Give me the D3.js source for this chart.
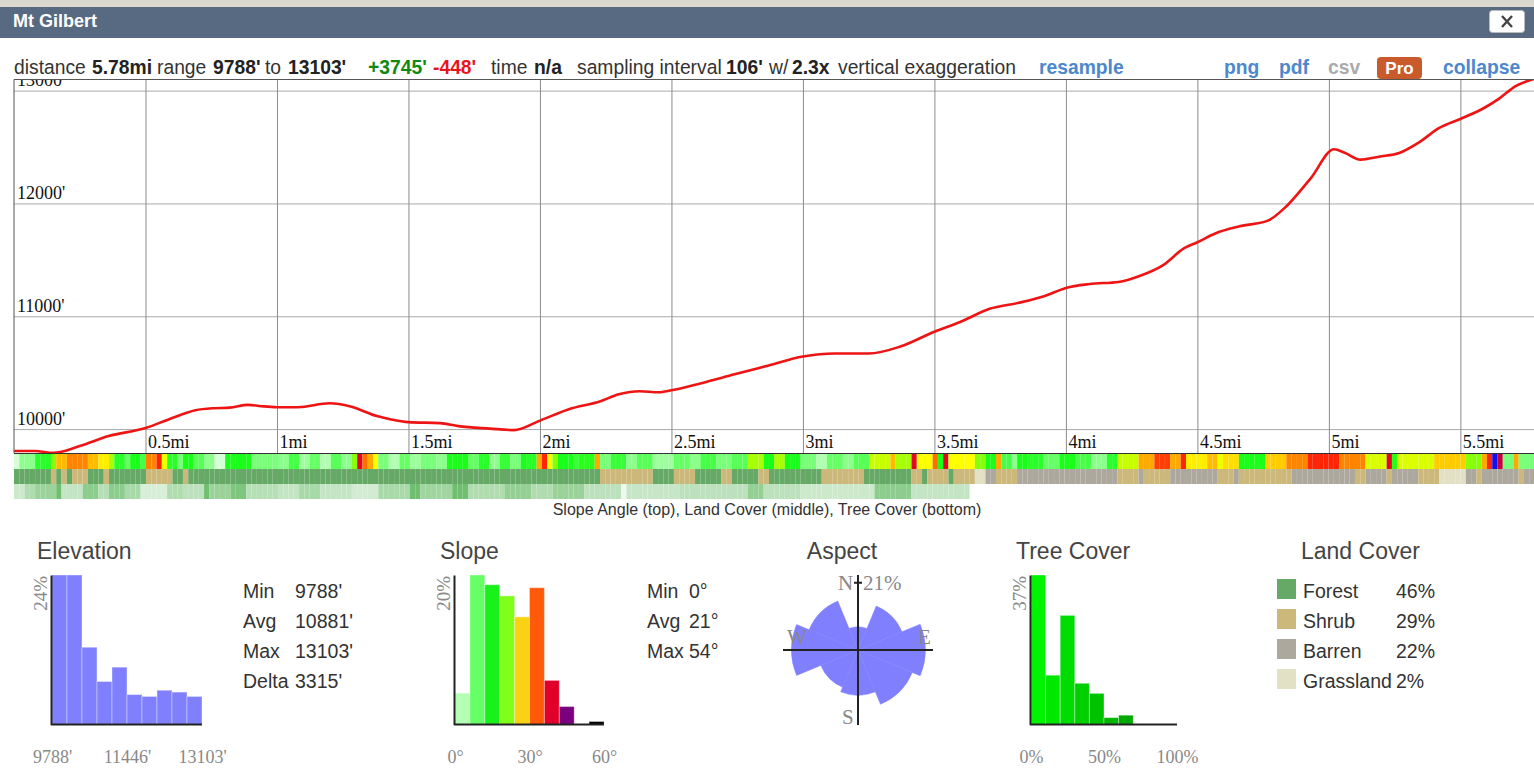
<!DOCTYPE html>
<html>
<head>
<meta charset="utf-8">
<script src="https://d3js.org/d3.v7.min.js"></script>
<style>
	body { margin: 0; background: #fff; overflow: hidden; }
	svg { display: block; font-family: "Liberation Sans", Arial, sans-serif; }
</style>
</head>
<body>
<svg id="chart" width="1534" height="769"></svg>
<script>
// ---- DATA ----

// elevation profile: distance (mi) and elevation (ft)
var profileMi = [0.00, 0.08, 0.15, 0.25, 0.36, 0.50, 0.59, 0.69, 0.76, 0.82, 0.89, 0.94, 1.00, 1.08, 1.20, 1.28, 1.38, 1.43, 1.50, 1.62, 1.69, 1.81, 1.90, 2.00, 2.11, 2.23, 2.30, 2.38, 2.45, 2.50, 2.61, 2.74, 2.87, 3.00, 3.12, 3.25, 3.37, 3.50, 3.60, 3.71, 3.82, 3.92, 4.00, 4.09, 4.20, 4.28, 4.37, 4.45, 4.50, 4.57, 4.66, 4.77, 4.83, 4.93, 5.02, 5.06, 5.12, 5.19, 5.27, 5.34, 5.42, 5.50, 5.59, 5.65, 5.71, 5.78];
var profileFt = [9806, 9806, 9789, 9850, 9938, 10009, 10088, 10167, 10185, 10190, 10215, 10203, 10194, 10194, 10229, 10200, 10115, 10088, 10062, 10053, 10026, 10004, 9991, 10075, 10176, 10247, 10308, 10335, 10326, 10344, 10405, 10485, 10564, 10643, 10670, 10670, 10731, 10863, 10951, 11066, 11119, 11180, 11251, 11286, 11304, 11357, 11454, 11603, 11656, 11736, 11797, 11850, 11956, 12220, 12480, 12449, 12388, 12414, 12449, 12537, 12669, 12749, 12846, 12934, 13040, 13103];

var totalMi = 5.78;
var elevMin = 9788, elevMax = 13103;
var sampleFt = 106;

var xTicks = [0.5, 1, 1.5, 2, 2.5, 3, 3.5, 4, 4.5, 5, 5.5];
var yTicks = [10000, 11000, 12000, 13000];

// strips along the track: [end of run (mi), value]
var slopeRuns = [
	[0.021, 3], [0.078, 8], [0.135, 14], [0.158, 21], [0.200, 30], [0.279, 33], [0.317, 30], [0.356, 27], [0.382, 22],
	[0.420, 14], [0.451, 10], [0.477, 15], [0.504, 12], [0.542, 33], [0.561, 37], [0.580, 25], [0.622, 14], [0.652, 9],
	[0.690, 15], [0.724, 11], [0.755, 8], [0.800, 3], [0.895, 15], [0.998, 9], [1.036, 8], [1.078, 12], [1.119, 7],
	[1.162, 10], [1.200, 6], [1.238, 11], [1.276, 8], [1.299, 21], [1.321, 40], [1.340, 34], [1.363, 31], [1.378, 26],
	[1.420, 9], [1.458, 6], [1.500, 10], [1.549, 7], [1.599, 9], [1.656, 8], [1.720, 15], [1.762, 10], [1.800, 14],
	[1.842, 8], [1.880, 13], [1.922, 9], [1.941, 15], [1.952, 32], [1.979, 14], [2.017, 31], [2.036, 37], [2.055, 25],
	[2.074, 21], [2.120, 15], [2.158, 13], [2.200, 16], [2.219, 31], [2.272, 9], [2.321, 13], [2.378, 8], [2.439, 11],
	[2.500, 7], [2.561, 10], [2.618, 8], [2.679, 12], [2.740, 9], [2.797, 11], [2.846, 22], [2.900, 15], [2.922, 22],
	[2.998, 15], [3.048, 9], [3.101, 6], [3.151, 10], [3.200, 8], [3.253, 11], [3.340, 23], [3.359, 30], [3.416, 22],
	[3.439, 40], [3.500, 26], [3.519, 34], [3.538, 15], [3.557, 40], [3.660, 26], [3.698, 21], [3.736, 15], [3.759, 31],
	[3.793, 12], [3.823, 8], [3.861, 15], [3.918, 14], [3.975, 10], [4.032, 15], [4.089, 12], [4.146, 8], [4.203, 14],
	[4.279, 23], [4.344, 31], [4.401, 36], [4.443, 31], [4.458, 37], [4.534, 27], [4.584, 30], [4.603, 25], [4.659, 28],
	[4.762, 15], [4.838, 29], [4.926, 33], [5.040, 37], [5.143, 33], [5.219, 24], [5.241, 40], [5.257, 16], [5.409, 24],
	[5.523, 29], [5.583, 21], [5.603, 31], [5.622, 37], [5.641, 50], [5.660, 42], [5.696, 9], [5.715, 31], [5.780, 9]
];

var landRuns = [
	[0.135, "F"], [0.158, "S"], [0.181, "F"], [0.200, "S"], [0.219, "F"], [0.279, "S"], [0.337, "F"], [0.356, "S"],
	[0.496, "F"], [0.599, "S"], [0.637, "F"], [0.660, "S"], [2.219, "F"], [2.424, "S"], [2.500, "F"], [2.599, "S"],
	[2.694, "F"], [2.740, "S"], [2.823, "F"], [2.861, "S"], [3.074, "F"], [3.241, "S"], [3.416, "F"], [3.462, "S"],
	[3.481, "F"], [3.545, "S"], [3.564, "F"], [3.660, "S"], [3.701, "G"], [3.740, "B"], [3.823, "S"], [4.203, "B"],
	[4.279, "S"], [4.298, "B"], [4.401, "S"], [4.584, "B"], [4.640, "S"], [4.659, "B"], [4.861, "S"], [5.105, "B"],
	[5.143, "S"], [5.222, "B"], [5.241, "S"], [5.344, "B"], [5.420, "S"], [5.523, "G"], [5.561, "B"], [5.580, "S"],
	[5.724, "B"], [5.743, "S"], [5.780, "B"]
];

// tree cover %, no data past the last run
var treeRuns = [
	[0.040, 12], [0.078, 22], [0.162, 30], [0.181, 45], [0.268, 15], [0.325, 35], [0.363, 20], [0.420, 35], [0.477, 25],
	[0.580, 8], [0.648, 22], [0.717, 18], [0.736, 45], [0.819, 30], [0.884, 40], [0.998, 20], [1.086, 15], [1.162, 25],
	[1.276, 15], [1.378, 10], [1.504, 25], [1.553, 45], [1.667, 28], [1.720, 45], [1.873, 22], [1.960, 32], [2.048, 22],
	[2.177, 30], [2.302, 18], [2.321, 0], [2.530, 14], [2.797, 18], [2.846, 32], [2.986, 18], [3.279, 12], [3.416, 35],
	[3.641, 15]
];

// histograms (% of track per bin)
var elevBins = [24, 24, 12.4, 6.9, 9.2, 4.8, 4.5, 5.5, 5.2, 4.5];
var elevTicks = [9788, 11446, 13103];
var elevStats = [["Min", "9788'"], ["Avg", "10881'"], ["Max", "13103'"], ["Delta", "3315'"]];

var slopeBins = [4.2, 20, 18.7, 17.2, 14.4, 18.3, 5.9, 2.4, 0, 0.4];
var slopeTicks = [0, 30, 60];
var slopeStats = [["Min", "0°"], ["Avg", "21°"], ["Max", "54°"]];

var aspectDirs = ["N", "NE", "E", "SE", "S", "SW", "W", "NW"];
var aspectPct = [2.5, 10.5, 21, 16, 9.5, 7.5, 20.5, 13];

var treeBins = [37, 12.2, 27, 10.2, 7.7, 1.7, 2.3, 0, 0, 0];
var treeTicks = [0, 50, 100];

var landNames = ["Forest", "Shrub", "Barren", "Grassland"];
var landKeys = ["F", "S", "B", "G"];
var landPct = [46, 29, 22, 2];

// ---- STYLE ----
var landColors = { F: "#66a966", S: "#cdb87b", B: "#aca89e", G: "#e3e1c5" };
var slopeColor = d3.scaleLinear()
	.domain([0, 5, 10, 15, 20, 23, 26, 29, 32, 35, 38, 42, 47, 50, 55])
	.range(["#f4fff4", "#c4ffc4", "#66ff66", "#1aff1a", "#66ff10", "#c8ff00", "#ffff00", "#ffcc00", "#ff9900",
		"#ff5a00", "#ff0a0a", "#c8003c", "#800080", "#1010ee", "#000000"])
	.clamp(true);
var slopeBinColors = ["#b4ffb4", "#66ff66", "#1af01a", "#80ff1a", "#fad214", "#ff5a0a", "#e0002a", "#7a0080", "#222", "#000"];
var treeColor = d3.scaleLinear().domain([0, 70]).range(["#eef8ee", "#2aa02a"]).clamp(true);
var serif = "'Liberation Serif', 'Times New Roman', serif";

var svg = d3.select("#chart");

// ---- HEADER ----
svg.append("rect").attr("x", 0).attr("y", 0).attr("width", 1534).attr("height", 8).attr("fill", "#dcd8cf");
svg.append("rect").attr("x", 0).attr("y", 7).attr("width", 1534).attr("height", 31).attr("fill", "#576a81");
svg.append("text").attr("x", 13).attr("y", 27).attr("fill", "#fff")
	.attr("font-weight", "bold").attr("font-size", 18).text("Mt Gilbert");

svg.append("rect").attr("x", 1489.5).attr("y", 10.5).attr("width", 35).attr("height", 22).attr("rx", 3)
	.attr("fill", "#fff").attr("stroke", "#bbb");
svg.append("path").attr("d", "M1502,16L1512,27M1512,16L1502,27").attr("stroke", "#444").attr("stroke-width", 2.4);

// info line, each piece at its own x so nothing drifts
var info = [
	[14, "distance", "n"], [92, "5.78mi", "b"], [157, "range", "n"], [213, "9788'", "b"], [265, "to", "n"],
	[288, "13103'", "b"], [368, "+3745'", "g"], [433, "-448'", "r"], [491, "time", "n"], [534, "n/a", "b"],
	[577, "sampling interval", "n"], [726, "106'", "b"], [769, "w/", "n"], [792, "2.3x", "b"],
	[838, "vertical exaggeration", "n"], [1039, "resample", "l"], [1224, "png", "l"], [1279, "pdf", "l"],
	[1328, "csv", "m"], [1443, "collapse", "l"]
];
var infoFill = { n: "#333", b: "#222", g: "#118811", r: "#e8141b", l: "#4d88cc", m: "#aaa" };
svg.append("g").selectAll("text").data(info).join("text")
	.attr("x", function(d) { return d[0]; })
	.attr("y", 74)
	.attr("font-size", 19.3)
	.attr("font-weight", function(d) { return d[2] === "n" ? "normal" : "bold"; })
	.attr("fill", function(d) { return infoFill[d[2]]; })
	.text(function(d) { return d[1]; });

svg.append("rect").attr("x", 1377).attr("y", 57).attr("width", 45).attr("height", 22).attr("rx", 4).attr("fill", "#c95a2c");
svg.append("text").attr("x", 1399.5).attr("y", 74).attr("text-anchor", "middle").attr("fill", "#fff")
	.attr("font-weight", "bold").attr("font-size", 17).text("Pro");

// ---- PROFILE ----
var plot = { left: 14, right: 1534, top: 79, bottom: 453 };

var x = d3.scaleLinear().domain([0, totalMi]).range([plot.left, plot.right]);
var y = d3.scaleLinear().domain([elevMin, elevMax]).range([plot.bottom, plot.top]);

svg.append("clipPath").attr("id", "plotclip").append("rect")
	.attr("x", plot.left).attr("y", plot.top).attr("width", plot.right - plot.left).attr("height", plot.bottom - plot.top);

var profile = svg.append("g").attr("clip-path", "url(#plotclip)");

var yAxis = d3.axisLeft(y).tickValues(yTicks).tickSize(-(plot.right - plot.left))
	.tickFormat(function(d) { return d + "'"; });
var yg = profile.append("g").attr("transform", "translate(" + plot.left + ",0)").call(yAxis)
	.attr("font-family", serif).attr("font-size", 18);
yg.select(".domain").remove();
yg.selectAll(".tick line").attr("stroke", "#aaa");
yg.selectAll(".tick text").attr("x", 3).attr("dy", -5).attr("text-anchor", "start").attr("fill", "#111");

var xAxis = d3.axisBottom(x).tickValues(xTicks).tickSize(-(plot.bottom - plot.top))
	.tickFormat(function(d) { return d + "mi"; });
var xg = profile.append("g").attr("transform", "translate(0," + plot.bottom + ")").call(xAxis)
	.attr("font-family", serif).attr("font-size", 18);
xg.select(".domain").remove();
xg.selectAll(".tick line").attr("stroke", "#8c8c8c");
xg.selectAll(".tick text").attr("x", 2).attr("y", -5).attr("dy", 0).attr("text-anchor", "start").attr("fill", "#111");

var line = d3.line()
	.x(function(d, i) { return x(profileMi[i]); })
	.y(function(d) { return y(d); })
	.curve(d3.curveMonotoneX);
profile.append("path").datum(profileFt).attr("d", line)
	.attr("fill", "none").attr("stroke", "#ee1414").attr("stroke-width", 2.6);

// frame
svg.append("path")
	.attr("d", "M" + plot.left + "," + plot.bottom + "V" + (plot.top + 0.5) + "H" + plot.right)
	.attr("fill", "none").attr("stroke", "#555").attr("stroke-width", 1);

// ---- STRIPS ----
var stepMi = sampleFt / 5280;
var nSamples = Math.ceil(totalMi / stepMi);
var samples = d3.range(nSamples).map(function(i) {
	return { d0: i * stepMi, d1: Math.min((i + 1) * stepMi, totalMi) };
});

function lookup(runs, d) {
	for (var i = 0; i < runs.length; i++) {
		if (d < runs[i][0]) return runs[i][1];
	}
	return null;
}

var rows = [
	{ top: 454, runs: slopeRuns, color: slopeColor },
	{ top: 469, runs: landRuns, color: function(k) { return landColors[k]; } },
	{ top: 484, runs: treeRuns, color: treeColor }
];

rows.forEach(function(row) {
	var cells = samples.map(function(s) {
		return { d0: s.d0, d1: s.d1, v: lookup(row.runs, (s.d0 + s.d1) / 2) };
	}).filter(function(c) { return c.v !== null; });

	svg.append("g").selectAll("rect").data(cells).join("rect")
		.attr("x", function(c) { return x(c.d0); })
		.attr("width", function(c) { return x(c.d1) - x(c.d0); })
		.attr("y", row.top)
		.attr("height", 15)
		.attr("fill", function(c) { return row.color(c.v); });
});

svg.append("line").attr("x1", plot.left).attr("x2", plot.right).attr("y1", 453.5).attr("y2", 453.5)
	.attr("stroke", "#333").attr("stroke-width", 1.2);

svg.append("text").attr("x", 767).attr("y", 515).attr("text-anchor", "middle")
	.attr("font-size", 16).attr("fill", "#333")
	.text("Slope Angle (top), Land Cover (middle), Tree Cover (bottom)");

// ---- SUMMARY PANELS ----
var titleY = 559, baseY = 724.5, topY = 575;

function title(tx, t, anchor) {
	svg.append("text").attr("x", tx).attr("y", titleY).attr("text-anchor", anchor || "start")
		.attr("font-size", 23).attr("fill", "#444").text(t);
}

function histogram(o) {
	var g = svg.append("g");
	var xs = d3.scaleLinear().domain(o.domain).range(o.range);
	var ys = d3.scaleLinear().domain([0, o.yMax]).range([baseY, topY]);
	var step = (o.domain[1] - o.domain[0]) / o.bins.length;

	g.selectAll("rect").data(o.bins).join("rect")
		.attr("x", function(d, i) { return xs(o.domain[0] + i * step); })
		.attr("width", function(d, i) { return xs(o.domain[0] + (i + 1) * step) - xs(o.domain[0] + i * step); })
		.attr("y", function(d) { return ys(d); })
		.attr("height", function(d) { return baseY - ys(d); })
		.attr("fill", function(d, i) { return o.colors(i); })
		.attr("stroke", "rgba(255,255,255,0.35)").attr("stroke-width", 1);

	var ax = g.append("g").attr("transform", "translate(0," + baseY + ")")
		.call(d3.axisBottom(xs).tickValues(o.ticks).tickSize(0).tickPadding(26).tickFormat(o.format))
		.attr("font-family", serif).attr("font-size", 18);
	ax.select(".domain").attr("stroke", "#222").attr("stroke-width", 2)
		.attr("d", "M" + (o.range[0] - 1) + ",0H" + o.range[1]);
	ax.selectAll("text").attr("fill", "#888");

	var ay = g.append("g").attr("transform", "translate(" + (o.range[0] - 1) + ",0)")
		.call(d3.axisLeft(ys).tickValues([]).tickSizeOuter(0));
	ay.select(".domain").attr("stroke", "#222").attr("stroke-width", 2);

	g.append("text")
		.attr("transform", "translate(" + (o.range[0] - 5) + "," + (topY + 1) + ") rotate(-90)")
		.attr("text-anchor", "end").attr("font-family", serif).attr("font-size", 19).attr("fill", "#888")
		.text(o.yMax + "%");
}

function stats(sx, vx, list) {
	svg.append("g").selectAll("g").data(list).join("g").each(function(d, i) {
		var row = d3.select(this);
		row.append("text").attr("x", sx).attr("y", 598 + i * 30).text(d[0]);
		row.append("text").attr("x", vx).attr("y", 598 + i * 30).text(d[1]);
	}).attr("font-size", 19.5).attr("fill", "#333");
}

// elevation
title(37, "Elevation");
histogram({
	bins: elevBins, domain: [elevMin, elevMax], range: [52, 202], yMax: 24, ticks: elevTicks,
	format: function(d) { return d + "'"; },
	colors: function() { return "#8080ff"; }
});
stats(243, 295, elevStats);

// slope
title(440, "Slope");
histogram({
	bins: slopeBins, domain: [0, 60], range: [455, 604], yMax: 20, ticks: slopeTicks,
	format: function(d) { return d + "°"; },
	colors: function(i) { return slopeBinColors[i]; }
});
stats(647, 689, slopeStats);

// aspect rose
title(842, "Aspect", "middle");
var cx = 858, cy = 650;
var rs = d3.scaleSqrt().domain([0, 21]).range([0, 67.3]);
var arc = d3.arc().innerRadius(0)
	.outerRadius(function(d) { return rs(d); })
	.startAngle(function(d, i) { return (i * 45 - 22.5) * Math.PI / 180; })
	.endAngle(function(d, i) { return (i * 45 + 22.5) * Math.PI / 180; });
var rose = svg.append("g").attr("transform", "translate(" + cx + "," + cy + ")");
rose.selectAll("path").data(aspectPct).join("path")
	.attr("d", function(d, i) { return arc(d, i); })
	.attr("fill", "#8080ff").attr("stroke", "#8080ff").attr("stroke-width", 0.5);
rose.append("path").attr("d", "M-75,0H75M0,-75V75M-4,-" + rs(21) + "H4")
	.attr("stroke", "#222").attr("stroke-width", 2);
var compass = [["N", -20, -60], ["S", -16, 74], ["W", -71, -6], ["E", 60, -6], ["21%", 5, -60]];
rose.selectAll("text").data(compass).join("text")
	.attr("x", function(d) { return d[1]; }).attr("y", function(d) { return d[2]; })
	.attr("font-family", serif).attr("font-size", 21).attr("fill", "#888")
	.text(function(d) { return d[0]; });

// tree cover
title(1016, "Tree Cover");
var treeShade = d3.interpolateRgb("#00f400", "#00aa00");
histogram({
	bins: treeBins, domain: [0, 100], range: [1031, 1177], yMax: 37, ticks: treeTicks,
	format: function(d) { return d + "%"; },
	colors: function(i) { return treeShade(i / 6); }
});

// land cover legend
title(1301, "Land Cover");
var legend = svg.append("g").selectAll("g").data(landNames).join("g")
	.attr("transform", function(d, i) { return "translate(0," + (i * 30) + ")"; });
legend.append("rect").attr("x", 1277).attr("y", 579).attr("width", 19).attr("height", 20)
	.attr("fill", function(d, i) { return landColors[landKeys[i]]; });
legend.append("text").attr("x", 1303).attr("y", 598).attr("font-size", 19.5).attr("fill", "#333")
	.text(function(d) { return d; });
legend.append("text").attr("x", 1396).attr("y", 598).attr("font-size", 19.5).attr("fill", "#333")
	.text(function(d, i) { return landPct[i] + "%"; });
</script>
</body>
</html>
